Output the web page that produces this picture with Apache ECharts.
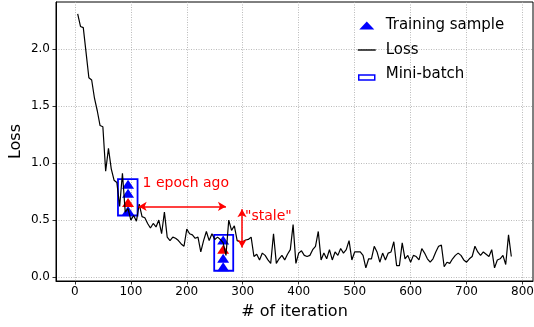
<!DOCTYPE html>
<html><head><meta charset="utf-8">
<script src="https://cdn.jsdelivr.net/npm/echarts@6/dist/echarts.min.js"></script>
<style>html,body{margin:0;padding:0;background:#fff}#c{width:534px;height:327px}</style>
</head><body><div id="c"></div>
<script>
// ---- data ----
const iterations = [5,10,15,20,25,30,35,40,45,50,55,60,65,70,75,80,85,90,95,100,
105,110,115,120,125,130,135,140,145,150,155,160,165,170,175,180,185,190,195,200,
205,210,215,220,225,230,235,240,245,250,255,260,265,270,275,280,285,290,295,300,
305,310,315,320,325,330,335,340,345,350,355,360,365,370,375,380,385,390,395,400,
405,410,415,420,425,430,435,440,445,450,455,460,465,470,475,480,485,490,495,500,
505,510,515,520,525,530,535,540,545,550,555,560,565,570,575,580,585,590,595,600,
605,610,615,620,625,630,635,640,645,650,655,660,665,670,675,680,685,690,695,700,
705,710,715,720,725,730,735,740,745,750,755,760,765,770,775,780];
const lossValues = [2.31,2.20,2.19,1.97,1.75,1.73,1.57,1.46,1.33,1.32,0.93,1.13,0.95,0.85,0.83,0.62,0.91,0.57,0.60,0.50,
0.54,0.49,0.64,0.53,0.52,0.47,0.43,0.47,0.44,0.50,0.38,0.57,0.35,0.32,0.35,0.34,0.32,0.29,0.27,0.42,
0.38,0.37,0.34,0.35,0.22,0.32,0.40,0.32,0.38,0.33,0.35,0.33,0.30,0.19,0.50,0.41,0.45,0.32,0.31,0.31,
0.325,0.33,0.35,0.18,0.20,0.15,0.21,0.19,0.15,0.12,0.38,0.12,0.16,0.19,0.15,0.20,0.24,0.46,0.12,0.21,
0.23,0.19,0.18,0.19,0.24,0.27,0.40,0.15,0.21,0.16,0.24,0.15,0.22,0.19,0.25,0.21,0.24,0.32,0.15,0.22,
0.22,0.22,0.19,0.08,0.16,0.16,0.27,0.22,0.13,0.21,0.15,0.21,0.22,0.31,0.10,0.10,0.30,0.16,0.19,0.13,
0.19,0.18,0.15,0.25,0.21,0.16,0.13,0.16,0.22,0.27,0.28,0.09,0.13,0.12,0.16,0.19,0.21,0.19,0.15,0.13,
0.16,0.18,0.27,0.22,0.19,0.22,0.20,0.18,0.24,0.08,0.15,0.16,0.19,0.11,0.37,0.18];
const sampleBluePoints = [[95,0.815],[95,0.735],[95,0.585],[265,0.325],[265,0.164],[265,0.09]];
const sampleRedPoints = [[95,0.655],[265,0.243]];
const miniBatchBoxes = [[77,0.54,112,0.86],[249,0.055,283,0.37]];
const epochArrow = [[114,0.62],[270,0.62]];
const staleArrow = [[298.7,0.594],[298.7,0.26]];
const annotationLabels = ['1 epoch ago', '"stale"'];
const annotationAnchors = [[121,0.825],[304,0.535]];
const xTickValues = [0,100,200,300,400,500,600,700,800];
const yTickValues = [0,0.5,1.0,1.5,2.0];

// ---- chart ----
const FONT = 'DejaVu Sans';
const chart = echarts.init(document.getElementById('c'), null, {renderer:'canvas'});
const lossData = iterations.map((x,i)=>[x, lossValues[i]]);
const annData = annotationAnchors.map((p,i)=>({name:annotationLabels[i], value:p}));

chart.setOption({
  animation:false,
  backgroundColor:'#fff',
  textStyle:{fontFamily:FONT},
  grid:{left:56,right:1,top:2,bottom:46,show:true,borderColor:'#000',borderWidth:1,
    containLabel:false, outerBoundsMode:'none'},
  legend:{
    orient:'vertical', left:352, top:13, itemWidth:18, itemHeight:12, itemGap:9.5,
    selectedMode:false,
    textStyle:{fontSize:15,color:'#000',fontFamily:FONT,padding:[0,0,0,5]},
    data:[
      {name:'Training sample', icon:'path://M0,0M18,12M1.5,10L9,2L16.5,10Z', itemStyle:{color:'#0000ff',opacity:1}},
      {name:'Loss', icon:'path://M0,0M18,12M0,5.3H18V6.7H0Z', itemStyle:{color:'#000',opacity:1}},
      {name:'Mini-batch', icon:'path://M0,0M18,12M1,6.5H17V11.5H1Z', itemStyle:{color:'#fff',borderColor:'#0000ff',borderWidth:1.5,opacity:1}}
    ]
  },
  xAxis:{
    type:'value', min:-33.75, max:818.75, interval:100,
    name:'# of iteration', nameLocation:'middle', nameGap:23, nameMoveOverlap:false,
    nameTextStyle:{fontSize:16,color:'#000',fontFamily:FONT},
    axisLine:{show:true,onZero:false,lineStyle:{color:'#000',width:1}},
    axisTick:{show:true,inside:false,length:3.5,lineStyle:{color:'#000',width:0.8},customValues:xTickValues},
    axisLabel:{fontSize:12,color:'#000',margin:5,fontFamily:FONT,customValues:xTickValues},
    splitLine:{show:true,lineStyle:{type:[1,1.5],color:'#a8a8a8',width:0.8}}
  },
  yAxis:{
    type:'value', min:-0.035, max:2.415, interval:0.5,
    name:'Loss', nameLocation:'middle', nameGap:32, nameRotate:90, nameMoveOverlap:false,
    nameTextStyle:{fontSize:16,color:'#000',fontFamily:FONT},
    axisLine:{show:true,onZero:false,lineStyle:{color:'#000',width:1}},
    axisTick:{show:true,inside:false,length:3.5,lineStyle:{color:'#000',width:0.8},customValues:yTickValues},
    axisLabel:{fontSize:12,color:'#000',margin:6,fontFamily:FONT,customValues:yTickValues,
      formatter:v=>Number(v).toFixed(1)},
    splitLine:{show:true,lineStyle:{type:[1,1.5],color:'#a8a8a8',width:0.8}}
  },
  series:[
    {
      name:'Training sample', type:'scatter', data:sampleBluePoints, symbol:'triangle',
      symbolSize:[12,9], itemStyle:{color:'#0000ff',opacity:1}, z:2, silent:true
    },
    {
      name:'Current sample', type:'scatter', data:sampleRedPoints, symbol:'triangle',
      symbolSize:[12,9], itemStyle:{color:'#ff0000',opacity:1}, z:2, silent:true
    },
    {
      name:'Mini-batch', type:'custom', data:miniBatchBoxes, z:3, silent:true,
      dimensions:['x0','y0','x1','y1'], encode:{x:[0,2], y:[1,3]},
      itemStyle:{color:'#0000ff'},
      renderItem:(params, api)=>{
        const p0 = api.coord([api.value(0), api.value(3)]);
        const p1 = api.coord([api.value(2), api.value(1)]);
        return {type:'rect', shape:{x:p0[0], y:p0[1], width:p1[0]-p0[0], height:p1[1]-p0[1]},
          style:{fill:'none', stroke:'#0000ff', lineWidth:1.8}};
      }
    },
    {
      name:'Loss', type:'line', data:lossData, symbol:'none', z:4, silent:true,
      lineStyle:{color:'#000', width:1.2}, itemStyle:{color:'#000'}
    },
    {
      name:'annotations', type:'scatter', data:annData, symbolSize:0, z:5, silent:true,
      itemStyle:{opacity:1},
      label:{show:true, position:'right', distance:0, formatter:'{b}', color:'#ff0000', opacity:1, fontSize:14, fontFamily:FONT},
      markLine:{
        silent:true, symbol:['arrow','arrow'], symbolSize:[7,8],
        label:{show:false},
        lineStyle:{color:'#ff0000', width:1.5, type:'solid', opacity:1},
        emphasis:{disabled:true},
        data:[
          [{coord:epochArrow[0]},{coord:epochArrow[1]}],
          [{coord:staleArrow[0]},{coord:staleArrow[1]}]
        ]
      }
    }
  ]
});
</script>
</body></html>
